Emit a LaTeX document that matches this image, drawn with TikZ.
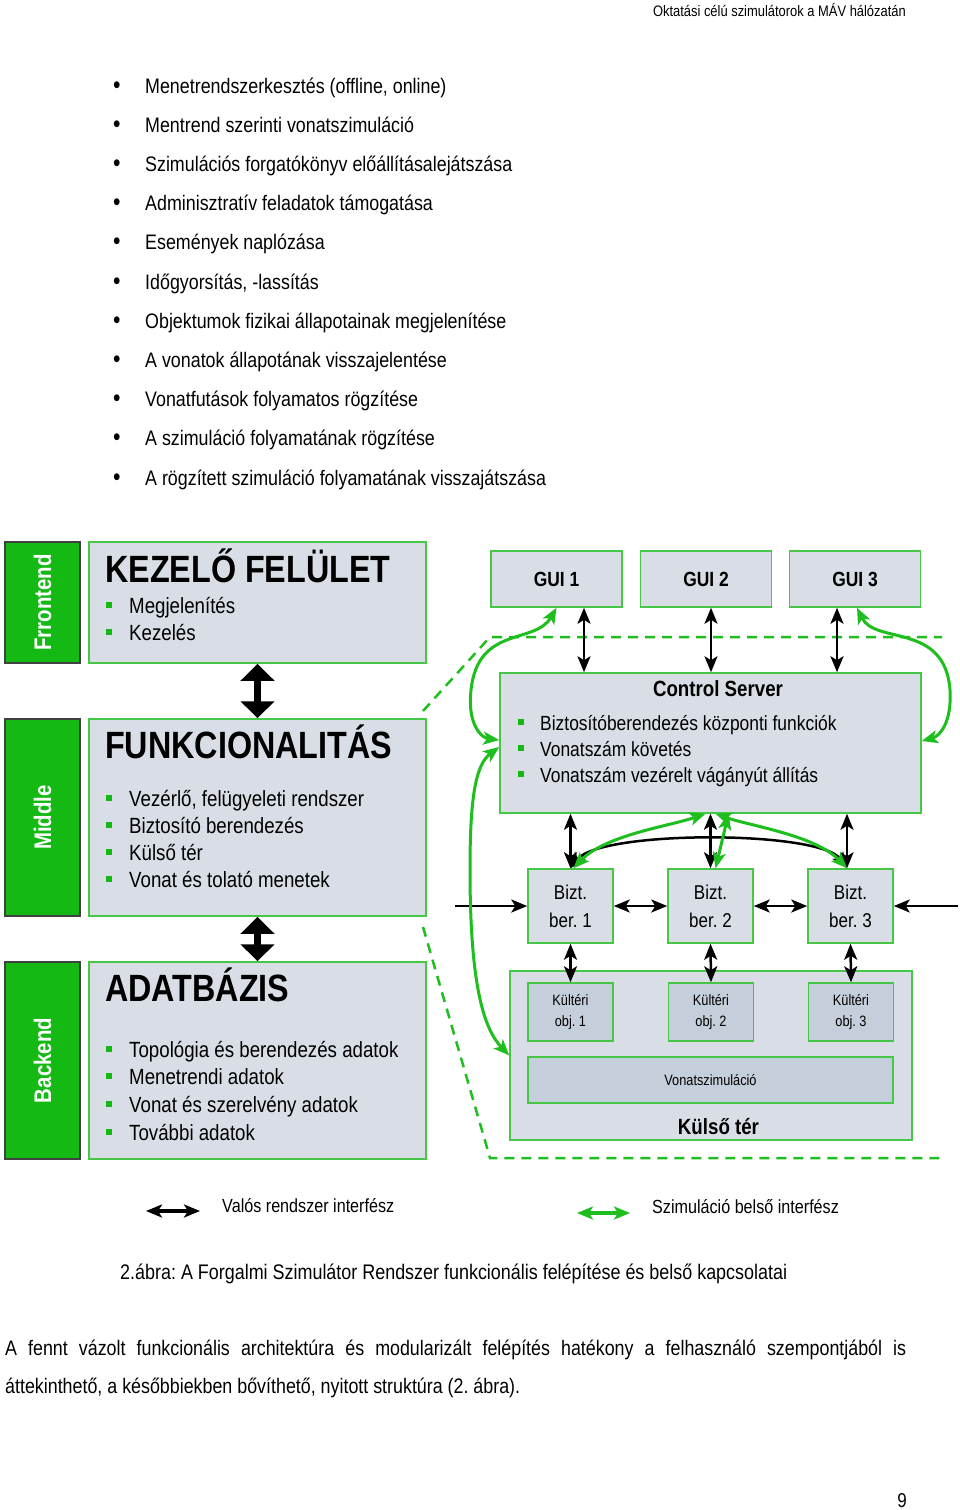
\documentclass[tikz,border=0pt]{standalone}
\usepackage{fontspec}
\setmainfont[FakeStretch=0.85]{Liberation Sans}
\usetikzlibrary{arrows.meta,positioning}

\definecolor{tabgreen}{RGB}{20,185,20}
\definecolor{linegreen}{RGB}{70,200,70}
\definecolor{arrowgreen}{RGB}{30,190,30}
\definecolor{boxfill}{RGB}{217,222,230}
\definecolor{objfill}{RGB}{197,207,219}

\newcommand{\gsq}[1]{{\color{tabgreen}\rule[5.5pt]{6pt}{6pt}}\hspace{#1}}
\frenchspacing

\tikzset{
  sidetab/.style={draw=black!75, fill=tabgreen, line width=2pt, rotate=90, minimum height=75pt,
    text=white, font=\bfseries\fontsize{24}{24}\selectfont},
  bigbox/.style={draw=linegreen, fill=boxfill, line width=1.5pt, minimum width=337pt},
  guibox/.style={draw=linegreen, fill=boxfill, line width=1.5pt, minimum width=131pt, minimum height=56pt,
    font=\bfseries\fontsize{20.5}{20.5}\selectfont},
  biztbox/.style={draw=linegreen, fill=boxfill, line width=1.5pt, minimum width=85pt, minimum height=74pt,
    align=center, font=\fontsize{20}{28}\selectfont},
  objbox/.style={draw=linegreen, fill=objfill, line width=1.5pt, minimum width=85pt, minimum height=58pt,
    align=center, font=\fontsize{15}{21}\selectfont},
  boxtitle/.style={anchor=base west, inner sep=0pt, font=\bfseries\fontsize{38}{38}\selectfont},
  boxitem/.style={anchor=base west, inner sep=0pt, font=\fontsize{22}{22}\selectfont},
  csitem/.style={anchor=base west, inner sep=0pt, font=\fontsize{20.5}{20.5}\selectfont},
  plain/.style={anchor=base west, inner sep=0pt, font=\fontsize{21}{21}\selectfont},
  fatarrow/.style={line width=7pt, {Triangle[width=33pt,length=17pt]}-{Triangle[width=33pt,length=17pt]}},
  barrow/.style={line width=2.5pt, {Stealth[length=16pt,width=13pt,inset=4pt]}-{Stealth[length=16pt,width=13pt,inset=4pt]}},
  barrowin/.style={line width=2.5pt, -{Stealth[length=16pt,width=13pt,inset=4pt]}},
  garrow/.style={draw=arrowgreen, line width=3pt, {Stealth[length=16pt,width=13pt,inset=4pt]}-{Stealth[length=16pt,width=13pt,inset=4pt]}},
  gdash/.style={draw=arrowgreen, line width=2.5pt, dash pattern=on 10pt off 7pt}
}

\begin{document}
\begin{tikzpicture}[x=1pt,y=-1pt]
  \useasboundingbox[fill=white] (0,0) rectangle (960,1510);

  % page header
  \node[anchor=base east, inner sep=0pt, font=\fontsize{15.2}{15.2}\selectfont] (hdr) at (906,16)
    {Oktatási célú szimulátorok a MÁV hálózatán};

  % bullet list above the figure
  \foreach \t [count=\i] in {{Menetrendszerkesztés (offline, online)},
      Mentrend szerinti vonatszimuláció,
      Szimulációs forgatókönyv előállításalejátszása,
      Adminisztratív feladatok támogatása,
      Események naplózása,
      {Időgyorsítás, -lassítás},
      Objektumok fizikai állapotainak megjelenítése,
      A vonatok állapotának visszajelentése,
      Vonatfutások folyamatos rögzítése,
      A szimuláció folyamatának rögzítése,
      A rögzített szimuláció folyamatának visszajátszása}
    \node[plain] (li-\i) at (113,{93+39.2*(\i-1)})
      {\makebox[32pt][l]{\fontsize{25}{25}\selectfont\textbullet}\t};

  % layer tabs
  \node[sidetab, minimum width=121pt] (front) at (42.5,602.5) {Frrontend};
  \node[sidetab, minimum width=197pt] (middle) at (42.5,817.5) {Middle};
  \node[sidetab, minimum width=197pt] (back) at (42.5,1060.5) {Backend};

  % layer boxes
  \node[bigbox, minimum height=121pt] (kez) at (257.5,602.5) {};
  \node[bigbox, minimum height=197pt] (fun) at (257.5,817.5) {};
  \node[bigbox, minimum height=197pt] (adb) at (257.5,1060.5) {};

  \node[boxtitle] (kez-t) at (105,582) {KEZELŐ FELÜLET};
  \foreach \t [count=\i] in {Megjelenítés,Kezelés}
    \node[boxitem] (kez-\i) at (106,{613+27*(\i-1)}) {\gsq{17pt}\t};

  \node[boxtitle] (fun-t) at (105,758) {FUNKCIONALITÁS};
  \foreach \t [count=\i] in {{Vezérlő, felügyeleti rendszer},Biztosító berendezés,Külső tér,Vonat és tolató menetek}
    \node[boxitem] (fun-\i) at (106,{806+27.3*(\i-1)}) {\gsq{17pt}\t};

  \node[boxtitle] (adb-t) at (105,1001) {ADATBÁZIS};
  \foreach \t [count=\i] in {Topológia és berendezés adatok,Menetrendi adatok,Vonat és szerelvény adatok,További adatok}
    \node[boxitem] (adb-\i) at (106,{1057+27.7*(\i-1)}) {\gsq{17pt}\t};

  \draw[fatarrow] (kez.south) -- (fun.north);
  \draw[fatarrow] (fun.south) -- (adb.north);

  % simulation boundary
  \coordinate (d1) at (423,711);
  \coordinate (d2) at (490,637);
  \coordinate (d3) at (942,637);
  \coordinate (d4) at (423,927);
  \coordinate (d5) at (490,1158);
  \coordinate (d6) at (940,1158);
  \draw[gdash] (d1) -- (d2) -- (d3);
  \draw[gdash] (d4) -- (d5) -- (d6);

  % GUIs and control server
  \node[guibox] (gui1) at (556.5,579) {GUI 1};
  \node[guibox] (gui2) at (706,579) {GUI 2};
  \node[guibox] (gui3) at (855,579) {GUI 3};

  \node[bigbox, minimum width=421pt, minimum height=140pt] (cs) at (710.5,743) {};
  \node[anchor=base, inner sep=0pt, font=\bfseries\fontsize{22}{22}\selectfont] (cs-t) at (718,696) {Control Server};
  \foreach \t [count=\i] in {Biztosítóberendezés központi funkciók,Vonatszám követés,Vonatszám vezérelt vágányút állítás}
    \node[csitem] (cs-\i) at (518,{730+26*(\i-1)}) {\gsq{16pt}\t};

  \coordinate (g1b) at ([xshift=27.5pt]gui1.south);
  \coordinate (g2b) at ([xshift=5pt]gui2.south);
  \coordinate (g3b) at ([xshift=-18pt]gui3.south);
  \draw[barrow] (g1b) -- (g1b |- cs.north);
  \draw[barrow] (g2b) -- (g2b |- cs.north);
  \draw[barrow] (g3b) -- (g3b |- cs.north);

  % interlockings
  \node[biztbox] (bizt1) at (570.5,906) {Bizt.\\ber. 1};
  \node[biztbox] (bizt2) at (710.5,906) {Bizt.\\ber. 2};
  \node[biztbox] (bizt3) at (850.5,906) {Bizt.\\ber. 3};

  \coordinate (b3t) at ([xshift=-3.5pt]bizt3.north);
  \draw[barrow] (bizt1.north) -- (bizt1.north |- cs.south);
  \draw[barrow] (bizt2.north) -- (bizt2.north |- cs.south);
  \draw[barrow] (b3t) -- (b3t |- cs.south);
  \draw[barrow] (bizt1.north) .. controls (600,830) and (820,830) .. (b3t);

  \coordinate (lin) at (455,906);
  \coordinate (rin) at (958,906);
  \draw[barrowin] (lin) -- (bizt1.west);
  \draw[barrow] (bizt1.east) -- (bizt2.west);
  \draw[barrow] (bizt2.east) -- (bizt3.west);
  \draw[barrowin] (rin) -- (bizt3.east);

  % outdoor field
  \node[bigbox, minimum width=402pt, minimum height=169pt] (ktr) at (711,1055.5) {};
  \node[objbox] (obj1) at (570.5,1012) {Kültéri\\obj. 1};
  \node[objbox] (obj2) at (711,1012) {Kültéri\\obj. 2};
  \node[objbox] (obj3) at (851,1012) {Kültéri\\obj. 3};
  \node[objbox, minimum width=365pt, minimum height=46pt] (vsim) at (710.5,1080) {Vonatszimuláció};
  \node[anchor=base, inner sep=0pt, font=\bfseries\fontsize{22}{22}\selectfont] (ktr-t) at (718.5,1134) {Külső tér};

  \draw[barrow] (bizt1.south) -- (obj1.north);
  \draw[barrow] (bizt2.south) -- (obj2.north);
  \draw[barrow] (bizt3.south) -- (obj3.north);

  % simulation internal links
  \draw[garrow] (gui1.south) .. controls (535,645) and (478,625) .. (471,690)
    .. controls (467,725) and (482,738) .. ([yshift=3pt]cs.west);
  \draw[garrow] ([yshift=-4pt]cs.west) .. controls (475,765) and (470,800) .. (470,870)
    .. controls (470,990) and (485,1030) .. (ktr.west);
  \draw[garrow] ([xshift=2pt]gui3.south) .. controls (875,645) and (945,622) .. (950,690)
    .. controls (952,722) and (940,736) .. ([yshift=2pt]cs.east);
  \draw[garrow] ([xshift=3pt]bizt1.north) .. controls (605,835) and (670,826) .. ([xshift=-5pt]cs.south);
  \draw[garrow] ([xshift=5pt]cs.south) .. controls (750,826) and (815,835) .. (b3t);
  \draw[garrow] ([xshift=18pt]cs.south) -- ([xshift=5pt]bizt2.north);

  % legend
  \coordinate (lb1) at (146,1211);
  \coordinate (lb2) at (200,1211);
  \coordinate (lg1) at (577,1213);
  \coordinate (lg2) at (630,1213);
  \draw[barrow, line width=3.5pt] (lb1) -- (lb2);
  \draw[garrow, line width=3.5pt] (lg1) -- (lg2);
  \node[plain, font=\fontsize{19}{19}\selectfont] (lb-t) at (222,1212) {Valós rendszer interfész};
  \node[plain, font=\fontsize{19}{19}\selectfont] (lg-t) at (652,1213) {Szimuláció belső interfész};

  % caption and text
  \node[plain, font=\fontsize{21.1}{21.1}\selectfont] (cap) at (120,1279)
    {2.ábra: A Forgalmi Szimulátor Rendszer funkcionális felépítése és belső kapcsolatai};
  \node[plain] (par1) at (5,1355)
    {\makebox[901pt][s]{A fennt vázolt funkcionális architektúra és modularizált felépítés hatékony a felhasználó szempontjából is}};
  \node[plain] (par2) at (5,1393)
    {áttekinthető, a későbbiekben bővíthető, nyitott struktúra (2. ábra).};
  \node[anchor=base east, inner sep=0pt, font=\fontsize{20}{20}\selectfont] (pg) at (907,1507) {9};
\end{tikzpicture}
\end{document}
